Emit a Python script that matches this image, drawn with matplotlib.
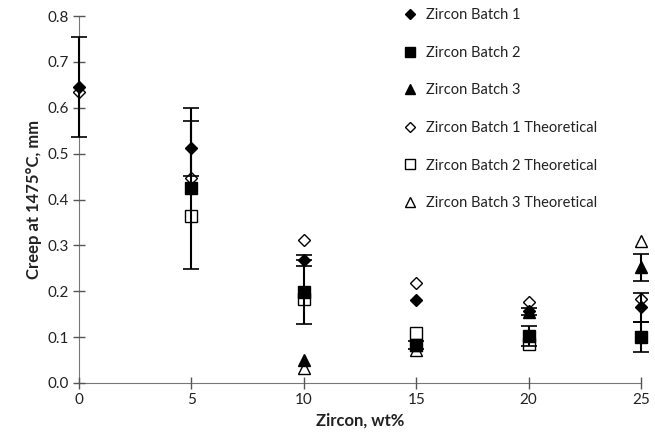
import numpy as np
import matplotlib
matplotlib.use("Agg")
import matplotlib.pyplot as plt
from matplotlib.lines import Line2D

plt.rcParams['font.family'] = ['Lato', 'DejaVu Sans']

zircon = [0, 5, 10, 15, 20, 25]
nan = np.nan

# measured creep (mm) and error bars
batch1 = [0.645, 0.512, 0.268, 0.180, 0.156, 0.165]
batch1_err = [0.109, 0.060, 0.012, nan, 0.008, 0.032]
batch2 = [nan, 0.424, 0.198, 0.083, 0.103, 0.100]
batch2_err = [nan, 0.175, 0.070, 0.008, 0.022, 0.033]
batch3 = [nan, nan, 0.050, 0.083, 0.155, 0.252]
batch3_err = [nan, nan, nan, nan, nan, 0.030]

# theoretical creep (mm)
batch1_theo = [0.634, 0.446, 0.311, 0.217, 0.176, 0.183]
batch2_theo = [nan, 0.364, 0.183, 0.109, 0.085, nan]
batch3_theo = [nan, nan, 0.033, 0.072, nan, 0.309]

fig = plt.figure(figsize=(6.55, 4.46), dpi=100)
ax = fig.add_axes([79 / 655, 63 / 446, 562 / 655, 367 / 446])

openkw = dict(mfc='none', mec='black', mew=1.0, ls='none', zorder=3, clip_on=False)
ax.plot(zircon, batch1_theo, 'D', ms=6.3, **openkw)
ax.plot(zircon, batch2_theo, 's', ms=8.5, **openkw)
ax.plot(zircon, batch3_theo, '^', ms=8.5, **openkw)

eb = dict(ls='none', color='black', ecolor='black', elinewidth=1.5,
          capsize=5.5, capthick=1.2, zorder=4, clip_on=False)
for y, e, m, s in [(batch1, batch1_err, 'D', 6.3),
                   (batch2, batch2_err, 's', 8.5),
                   (batch3, batch3_err, '^', 8.5)]:
    c = ax.errorbar(zircon, y, yerr=e, fmt=m, ms=s, **eb)
    for art in c.lines[1] + c.lines[2]:
        art.set_clip_on(False)

ax.set_xlim(0, 25)
ax.set_ylim(0, 0.8)
ax.set_xticks([0, 5, 10, 15, 20, 25])
ax.set_yticks(np.arange(0, 0.81, 0.1))
ax.yaxis.set_major_formatter(matplotlib.ticker.FormatStrFormatter('%.1f'))
ax.tick_params(direction='inout', length=8, width=1, color='#555555',
               labelsize=11, labelcolor='#222222')
for s in ['top', 'right']:
    ax.spines[s].set_visible(False)
for s in ['left', 'bottom']:
    ax.spines[s].set_color('#777777')
    ax.spines[s].set_zorder(1)

ax.set_xlabel('Zircon, wt%', fontsize=12, fontweight='bold', color='#222222')
ax.set_ylabel('Creep at 1475°C, mm', fontsize=12, fontweight='bold', color='#222222')

mk = [Line2D([], [], marker=m, ms=s, color='black', ls='none')
      for m, s in [('D', 5.5), ('s', 7.5), ('^', 7.5)]]
mk_open = [Line2D([], [], marker=m, ms=s, mfc='none', mec='black', mew=1.0, ls='none')
           for m, s in [('D', 5.5), ('s', 7.5), ('^', 7.5)]]
leg = fig.legend(mk + mk_open,
                 ['Zircon Batch 1', 'Zircon Batch 2', 'Zircon Batch 3',
                  'Zircon Batch 1 Theoretical', 'Zircon Batch 2 Theoretical',
                  'Zircon Batch 3 Theoretical'],
                 loc='upper left', bbox_to_anchor=(403 / 655, 1 - 8 / 446),
                 frameon=False, fontsize=10.5, handlelength=1.0,
                 handletextpad=0.6, labelspacing=1.62, borderpad=0,
                 borderaxespad=0)
for t in leg.get_texts():
    t.set_color('#222222')

fig.savefig('out.png', dpi=100)
